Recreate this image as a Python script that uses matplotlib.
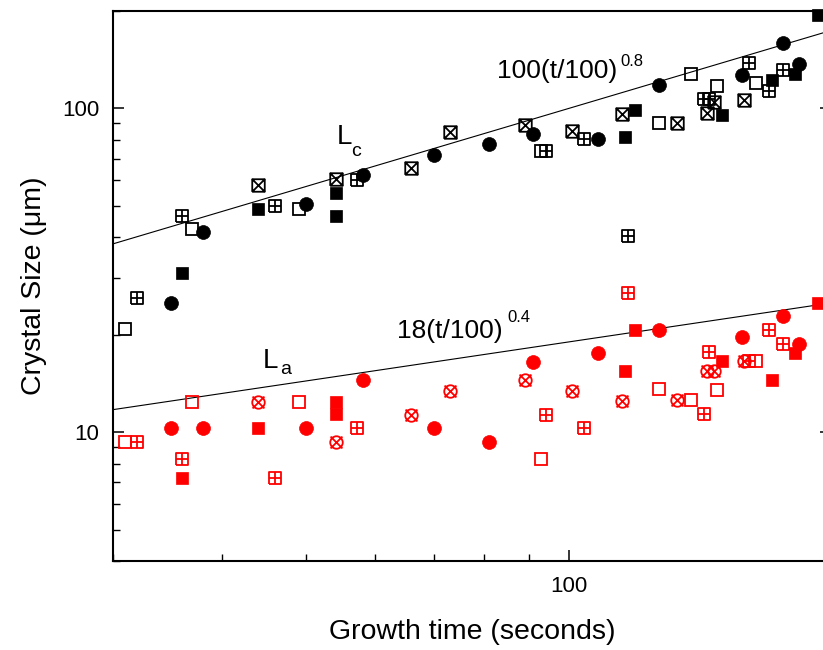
import numpy as np
import matplotlib
matplotlib.use("Agg")
import matplotlib.pyplot as plt
from matplotlib.path import Path
from matplotlib.ticker import LogLocator, NullFormatter, FuncFormatter

plt.rcParams['font.family'] = ['Liberation Sans', 'DejaVu Sans']

# growth times (s) for each symbol type, shared by Lc (black) and La (red)
t_circ = [35.0, 38.1, 50.0, 58.1, 70.1, 81.0, 91.0, 108, 127, 158, 176, 184]
t_fsq = [36.0, 44.0, 54.1, 54.1, 116, 119, 150, 171, 182, 193]
t_osq = [31.0, 37.0, 49.0, 93.0, 127, 138, 148, 164]
t_plus = [32.0, 36.0, 46.0, 57.1, 94.1, 104, 117, 143, 145, 161, 170, 176]
t_cross = [44.0, 54.1, 66.0, 73.0, 89.0, 101, 115, 133, 144, 147, 159]

# Lc sizes (um)
lc_circ = [25.0, 41.5, 50.8, 62.5, 71.7, 77.4, 83.3, 80.2, 118, 127, 159, 137]
lc_fsq = [31.1, 48.8, 55.0, 46.7, 81.7, 98.8, 95.3, 122, 128, 195]
lc_osq = [20.8, 42.5, 48.8, 73.9, 89.9, 128, 117, 120]
lc_plus = [25.9, 46.7, 49.8, 60.3, 73.9, 80.2, 40.5, 107, 107, 138, 113, 131]
lc_cross = [57.9, 60.4, 65.7, 84.3, 88.8, 85.2, 96.0, 89.9, 96.9, 105, 106]

# La sizes (um)
la_circ = [10.3, 10.3, 10.3, 14.5, 10.3, 9.31, 16.5, 17.5, 20.7, 19.7, 22.9, 18.7]
la_fsq = [7.22, 10.3, 12.4, 11.4, 15.5, 20.7, 16.6, 14.5, 17.6, 25.0]
la_osq = [9.31, 12.4, 12.4, 8.29, 13.6, 12.6, 13.5, 16.6]
la_plus = [9.31, 8.27, 7.22, 10.3, 11.3, 10.3, 26.9, 11.4, 17.7, 16.6, 20.7, 18.7]
la_cross = [12.4, 9.31, 11.3, 13.4, 14.5, 13.4, 12.5, 12.6, 15.5, 15.5, 16.6]

# power law guides
lc_coef, lc_exp = 100, 0.8
la_coef, la_exp = 19, 0.4

M, L = Path.MOVETO, Path.LINETO
sq_plus = Path([(-1, -1), (1, -1), (1, 1), (-1, 1), (-1, -1), (0, -1), (0, 1), (-1, 0), (1, 0)],
               [M, L, L, L, L, M, L, M, L])
sq_x = Path([(-1, -1), (1, -1), (1, 1), (-1, 1), (-1, -1), (-1, -1), (1, 1), (-1, 1), (1, -1)],
            [M, L, L, L, L, M, L, M, L])
d = 0.95
circ_x = Path.make_compound_path(Path.unit_circle(),
                                 Path([(-d, -d), (d, d), (-d, d), (d, -d)], [M, L, M, L]))

fig = plt.figure(figsize=(8.23, 6.5), dpi=100)
ax = fig.add_axes([113/823, 89/650, 718/823, 550/650])
ax.set_xscale('log')
ax.set_yscale('log')
ax.set_xlim(30, 200)
ax.set_ylim(4, 200)

tf = np.logspace(np.log10(30), np.log10(200), 200)
ax.plot(tf, lc_coef*(tf/100)**lc_exp, color='black', lw=0.8, zorder=1)
ax.plot(tf, la_coef*(tf/100)**la_exp, color='black', lw=0.8, zorder=1)

for col, ys, cross in [('black', (lc_circ, lc_fsq, lc_osq, lc_plus, lc_cross), sq_x),
                       ('red', (la_circ, la_fsq, la_osq, la_plus, la_cross), circ_x)]:
    c, f, o, p, x = ys
    ax.plot(t_osq, o, ls='none', marker='s', ms=8.5, mfc='none', mec=col, mew=1.3, clip_on=False)
    ax.plot(t_plus, p, ls='none', marker=sq_plus, ms=8.5, mfc='none', mec=col, mew=1.3, clip_on=False)
    ax.plot(t_cross, x, ls='none', marker=cross, ms=9, mfc='none', mec=col, mew=1.3, clip_on=False)
    ax.plot(t_fsq, f, ls='none', marker='s', ms=8.5, mfc=col, mec=col, mew=0.5, clip_on=False)
    ax.plot(t_circ, c, ls='none', marker='o', ms=10, mfc=col, mec=col, mew=0.5, clip_on=False)

fmt = FuncFormatter(lambda v, p: '%g' % v)
for axis in (ax.xaxis, ax.yaxis):
    axis.set_major_locator(LogLocator(base=10))
    axis.set_minor_locator(LogLocator(base=10, subs=np.arange(2, 10)))
    axis.set_major_formatter(fmt)
    axis.set_minor_formatter(NullFormatter())

ax.tick_params(which='both', direction='in', left=True, right=True, top=False, bottom=True)
ax.tick_params(which='major', length=7.7, width=1.1, labelsize=16)
ax.tick_params(which='minor', length=4.8, width=1.0)
ax.tick_params(axis='y', which='major', pad=10)
ax.tick_params(axis='x', which='major', pad=11)
for s in ax.spines.values():
    s.set_linewidth(1.5)

fig.text(472/823, (650-632)/650, 'Growth time (seconds)', fontsize=20.5, ha='center', va='center')
fig.text(34/823, (650-286)/650, 'Crystal Size (\u03bcm)', fontsize=20.5, ha='center', va='center',
         rotation=90)

tr = ax.transAxes
ax.text(0.535, 0.891, '100(t/100)', transform=tr, fontsize=19, ha='left', va='center')
ax.text(0.706, 0.909, '0.8', transform=tr, fontsize=12, ha='left', va='center')
ax.text(0.395, 0.418, '18(t/100)', transform=tr, fontsize=19, ha='left', va='center')
ax.text(0.549, 0.442, '0.4', transform=tr, fontsize=12, ha='left', va='center')
ax.text(0.311, 0.771, 'L', transform=tr, fontsize=20, ha='left', va='center')
ax.text(0.331, 0.744, 'c', transform=tr, fontsize=14, ha='left', va='center')
ax.text(0.209, 0.364, 'L', transform=tr, fontsize=20, ha='left', va='center')
ax.text(0.2326, 0.349, 'a', transform=tr, fontsize=14, ha='left', va='center')

fig.savefig('out.png', dpi=100)
